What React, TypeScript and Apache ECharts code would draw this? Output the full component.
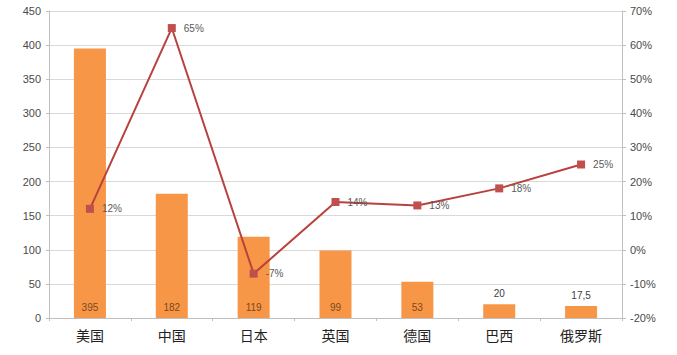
import React, { useEffect, useRef } from "react";
import * as echarts from "echarts";

const categories = ["美国", "中国", "日本", "英国", "德国", "巴西", "俄罗斯"];
const barValues = [395, 182, 119, 99, 53, 20, 17.5];
const growthValues = [12, 65, -7, 14, 13, 18, 25];

export default function App() {
  const ref = useRef<HTMLDivElement>(null);
  useEffect(() => {
    const chart = echarts.init(ref.current!, null, { renderer: "svg" });
    chart.setOption({
      animation: false,
      grid: { left: 49, right: 55, top: 11, bottom: 37 },
      xAxis: {
        type: "category",
        data: categories,
        axisLine: { lineStyle: { color: "#bfbfbf" } },
        axisTick: { show: true, length: 3, lineStyle: { color: "#bfbfbf" } },
        axisLabel: { color: "#222", fontSize: 14, margin: 10, fontFamily: "Noto Sans CJK SC" },
      },
      yAxis: [
        {
          type: "value",
          min: 0,
          max: 450,
          interval: 50,
          axisLine: { show: true, lineStyle: { color: "#bfbfbf" } },
          axisTick: { show: true, length: 3, lineStyle: { color: "#bfbfbf" } },
          splitLine: { lineStyle: { color: "#d9d9d9", width: 1 } },
          axisLabel: { color: "#4a4a4a", fontSize: 11, margin: 8, fontFamily: "Liberation Sans" },
        },
        {
          type: "value",
          min: -20,
          max: 70,
          interval: 10,
          position: "right",
          axisLine: { show: true, lineStyle: { color: "#bfbfbf" } },
          axisTick: { show: true, length: 4, lineStyle: { color: "#bfbfbf" } },
          splitLine: { show: false },
          axisLabel: { color: "#4a4a4a", fontSize: 11, margin: 8, formatter: "{value}%", fontFamily: "Liberation Sans" },
        },
      ],
      series: [
        {
          type: "bar",
          data: barValues.map((v) => ({
            value: v,
            label:
              v < 30
                ? { show: true, position: "top", color: "#404040", distance: 6 }
                : { show: true, position: "insideBottom", color: "#7a4a1f", distance: 6 },
          })),
          barWidth: 32,
          itemStyle: { color: "#F79646" },
          label: {
            show: true,
            fontSize: 10,
            fontFamily: "Liberation Sans",
            formatter: (p: any) => String(p.value).replace(".", ","),
          },
        },
        {
          type: "line",
          yAxisIndex: 1,
          data: growthValues,
          symbol: "rect",
          symbolSize: 8,
          lineStyle: { color: "#B9413E", width: 2 },
          itemStyle: { color: "#C0504D" },
          label: {
            show: true,
            position: "right",
            distance: 8,
            color: "#595959",
            fontSize: 10,
            fontFamily: "Liberation Sans",
            formatter: "{c}%",
          },
        },
      ],
    });
    return () => chart.dispose();
  }, []);
  return <div ref={ref} style={{ width: 677, height: 355, position: "absolute", left: 0, top: 0 }} />;
}
